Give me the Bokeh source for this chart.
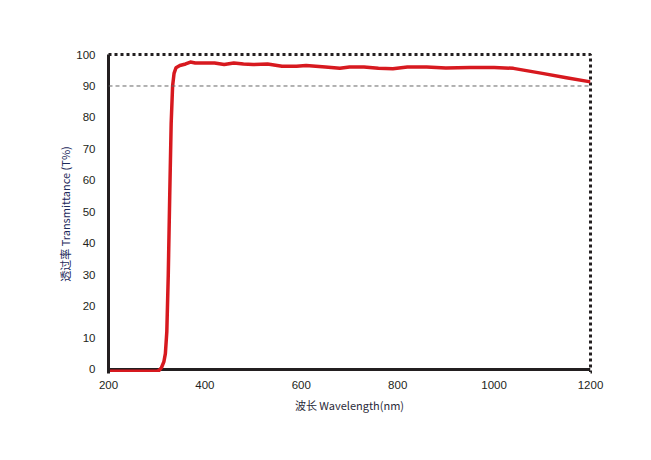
from bokeh.plotting import figure
from bokeh.models import Range1d, Span, FixedTicker
from bokeh.embed import file_html
from bokeh.resources import INLINE

wavelength = [200, 250, 300, 305, 310, 315, 318, 321, 324, 327, 330, 333, 336, 340, 348, 360, 370, 380,
              400, 420, 440, 460, 480, 500, 530, 560, 590, 610, 650, 680, 700, 730, 760,
              790, 820, 860, 900, 950, 1000, 1040, 1100, 1150, 1200]
transmittance = [-0.6, -0.6, -0.6, -0.3, 0.6, 2.5, 5, 12, 30, 55, 78, 90, 94, 95.8, 96.5, 97.0, 97.6, 97.3,
                 97.3, 97.3, 96.8, 97.3, 97.0, 96.8, 97.0, 96.3, 96.3, 96.5, 96.0, 95.6, 96.0, 96.0, 95.6,
                 95.5, 96.0, 96.0, 95.7, 95.9, 95.9, 95.6, 94.0, 92.6, 91.3]
x_ticks = [200, 400, 600, 800, 1000, 1200]
y_ticks = [0, 10, 20, 30, 40, 50, 60, 70, 80, 90, 100]
ref_line = 90

p = figure(width=635, height=440, output_backend="svg", toolbar_location=None,
           x_range=Range1d(200, 1200), y_range=Range1d(-1.3, 100),
           min_border_left=108, min_border_right=45, min_border_top=54, min_border_bottom=67)
p.background_fill_color = "white"
p.border_fill_color = "white"
p.grid.visible = False
p.outline_line_color = "#231f20"
p.outline_line_width = 3
p.outline_line_dash = "3 3"

p.add_layout(Span(location=ref_line, dimension="width", line_color="#666666",
                  line_width=1, line_dash="4 3"))
p.add_layout(Span(location=0, dimension="width", line_color="#231f20",
                  line_width=3, level="underlay"))

p.line(wavelength, transmittance, line_color="#d7191f", line_width=3.5, line_join="round")

for ax in (p.xaxis[0], p.yaxis[0]):
    ax.axis_line_color = "#231f20"
    ax.axis_line_width = 3
    ax.major_tick_line_color = None
    ax.minor_tick_line_color = None
    ax.major_label_text_font = "Liberation Sans"
    ax.major_label_text_font_size = "11.5px"
    ax.major_label_text_color = "#231f20"
    ax.axis_label_text_font = "Noto Sans CJK SC"
    ax.axis_label_text_font_size = "11px"
    ax.axis_label_text_font_style = "normal"

p.xaxis.axis_line_color = "white"
p.xaxis.axis_line_width = 3
p.xaxis.ticker = FixedTicker(ticks=x_ticks)
p.yaxis.ticker = FixedTicker(ticks=y_ticks)
p.xaxis.major_label_standoff = 1
p.yaxis.major_label_standoff = 7
p.xaxis.axis_label = "波长 Wavelength(nm)"
p.xaxis.axis_label_text_color = "#2b2b3a"
p.xaxis.axis_label_standoff = 5
p.yaxis.axis_label = "透过率 Transmittance (T%)"
p.yaxis.axis_label_text_color = "#1d2a5c"
p.yaxis.axis_label_standoff = 0

open("out.html", "w").write(file_html(p, INLINE))
